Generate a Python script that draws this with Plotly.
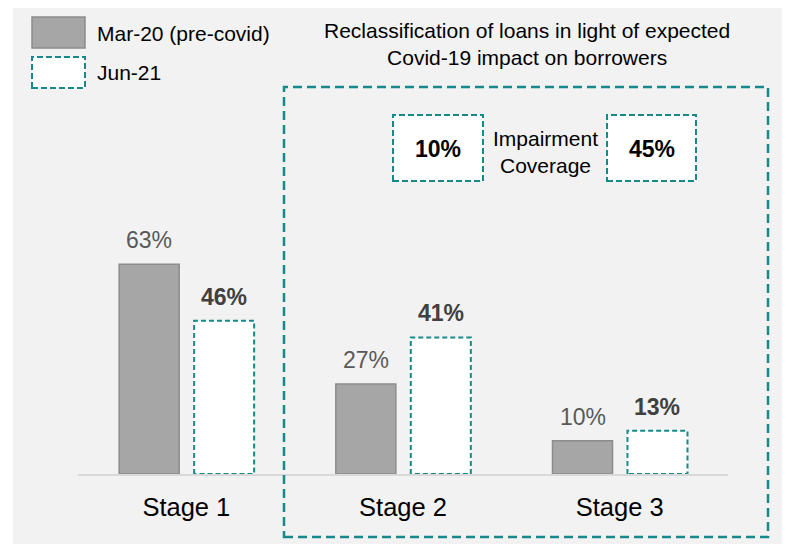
import plotly.graph_objects as go

# ---- data ----
categories = ["Stage 1", "Stage 2", "Stage 3"]
mar20_values = [63, 27, 10]
jun21_values = [46, 41, 13]
series_names = ["Mar-20 (pre-covid)", "Jun-21"]
coverage_values = ["10%", "45%"]
coverage_label = "Impairment<br>Coverage"
box_title = "Reclassification of loans in light of expected<br>Covid-19 impact on borrowers"

# ---- styling ----
FONT = "Arial, Liberation Sans, sans-serif"
TEAL = "#17898a"
GRAY_FILL = "#a6a6a6"
GRAY_LINE = "#8c8c8c"
BG = "#f2f2f2"

PAGE_OFF = 8            # browser body margin
W, H = 790 - PAGE_OFF, 544 - PAGE_OFF
PLOT_L, PLOT_R, PLOT_T, PLOT_B = 78, 728, 141, 474   # page pixels
ML = PLOT_L - PAGE_OFF
MR = 790 - PLOT_R
MT = PLOT_T - PAGE_OFF
MB = 544 - PLOT_B
PW = PLOT_R - PLOT_L
PH = PLOT_B - PLOT_T


def px(x):
    return (x - PLOT_L) / PW


def py(y):
    return (PLOT_B - y) / PH


BAR_W = 0.277
OFF_A = -0.31
OFF_B = 0.036

xs = list(range(len(categories)))

fig = go.Figure()

fig.add_trace(go.Bar(
    x=xs, y=mar20_values, name=series_names[0],
    width=BAR_W, offset=OFF_A,
    marker=dict(color=GRAY_FILL, line=dict(color=GRAY_LINE, width=1.5)),
    showlegend=False, hoverinfo="skip",
))
fig.add_trace(go.Bar(
    x=xs, y=jun21_values, name=series_names[1],
    width=BAR_W, offset=OFF_B,
    marker=dict(color="white", line=dict(width=0)),
    showlegend=False, hoverinfo="skip",
))

# dashed outlines of Jun-21 bars
ox, oy = [], []
for i, v in zip(xs, jun21_values):
    x0, x1 = i + OFF_B, i + OFF_B + BAR_W
    ox += [x0, x0, x1, x1, x0, None]
    oy += [0, v, v, 0, 0, None]
fig.add_trace(go.Scatter(
    x=ox, y=oy, mode="lines",
    line=dict(color=TEAL, width=2, dash="5px,3px"),
    showlegend=False, hoverinfo="skip",
))

annotations = []
# data labels
for i, v in zip(xs, mar20_values):
    annotations.append(dict(
        x=i + OFF_A + BAR_W / 2, y=v, xref="x", yref="y",
        text=f"{v}%", showarrow=False, yanchor="middle", yshift=24,
        font=dict(family=FONT, size=23, color="#595959"),
    ))
for i, v in zip(xs, jun21_values):
    annotations.append(dict(
        x=i + OFF_B + BAR_W / 2, y=v, xref="x", yref="y",
        text=f"<b>{v}%</b>", showarrow=False, yanchor="middle", yshift=24,
        font=dict(family=FONT, size=23, color="#404040"),
    ))

shapes = []
# gray page background (white strip at top/left)
shapes.append(dict(type="rect", xref="paper", yref="paper",
                   x0=px(13), x1=px(820), y0=py(580), y1=py(PAGE_OFF),
                   fillcolor=BG, line=dict(width=0), layer="below"))

# legend
shapes.append(dict(type="rect", xref="paper", yref="paper",
                   x0=px(32), x1=px(85), y0=py(48), y1=py(17),
                   fillcolor=GRAY_FILL, line=dict(color=GRAY_LINE, width=1.5)))
shapes.append(dict(type="rect", xref="paper", yref="paper",
                   x0=px(32), x1=px(85), y0=py(88), y1=py(57),
                   fillcolor="white", line=dict(color=TEAL, width=2, dash="6px,3px")))
annotations.append(dict(x=px(95), y=py(33), xref="paper", yref="paper",
                        text=series_names[0], showarrow=False,
                        xanchor="left", yanchor="middle",
                        font=dict(family=FONT, size=21, color="#000000")))
annotations.append(dict(x=px(95), y=py(73), xref="paper", yref="paper",
                        text=series_names[1], showarrow=False,
                        xanchor="left", yanchor="middle",
                        font=dict(family=FONT, size=21, color="#000000")))

# big dashed box + title
shapes.append(dict(type="rect", xref="paper", yref="paper",
                   x0=px(284), x1=px(768), y0=py(537), y1=py(87),
                   fillcolor="rgba(0,0,0,0)", line=dict(color=TEAL, width=2.5, dash="9px,5px")))
annotations.append(dict(x=px(527), y=py(44), xref="paper", yref="paper",
                        text=box_title, showarrow=False,
                        xanchor="center", yanchor="middle",
                        font=dict(family=FONT, size=21, color="#000000")))

# impairment coverage boxes
for (bx0, bx1), val in zip([(393, 483), (607, 696)], coverage_values):
    shapes.append(dict(type="rect", xref="paper", yref="paper",
                       x0=px(bx0), x1=px(bx1), y0=py(181), y1=py(115),
                       fillcolor="white", line=dict(color=TEAL, width=2, dash="6px,3px")))
    annotations.append(dict(x=px((bx0 + bx1) / 2), y=py(149), xref="paper", yref="paper",
                            text=f"<b>{val}</b>", showarrow=False,
                            xanchor="center", yanchor="middle",
                            font=dict(family=FONT, size=23, color="#000000")))
annotations.append(dict(x=px(545), y=py(152), xref="paper", yref="paper",
                        text=coverage_label, showarrow=False,
                        xanchor="center", yanchor="middle",
                        font=dict(family=FONT, size=21, color="#000000")))

fig.update_layout(
    width=W, height=H, autosize=False,
    margin=dict(l=ML, r=MR, t=MT, b=MB, pad=0),
    paper_bgcolor="white", plot_bgcolor="rgba(0,0,0,0)",
    barmode="overlay",
    shapes=shapes, annotations=annotations,
    xaxis=dict(range=[-0.5, len(categories) - 0.5], tickmode="array",
               tickvals=xs, ticktext=categories, ticks="",
               showgrid=False, zeroline=False,
               showline=True, linecolor="#d9d9d9", linewidth=2,
               ticklabelstandoff=9,
               tickfont=dict(family=FONT, size=25.5, color="#000000"),
               fixedrange=True),
    yaxis=dict(range=[0, 100], visible=False, showgrid=False, zeroline=False,
               fixedrange=True),
    showlegend=False,
)

fig.write_html("out.html")
